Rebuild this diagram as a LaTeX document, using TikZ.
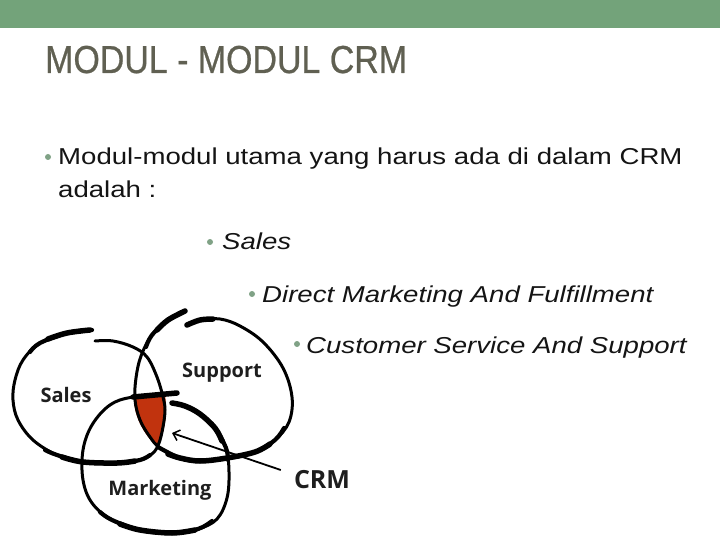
\documentclass[tikz,border=0pt]{standalone}
\usepackage{fontspec}
\usepackage{graphicx}
\setmainfont{Liberation Sans}
\newfontfamily\lblfont{Open Sans}
\newfontfamily\titlefont{Liberation Sans}[FakeBold=0.7]
\usetikzlibrary{arrows.meta}
\definecolor{barcol}{RGB}{115,163,122}
\definecolor{titlecol}{RGB}{96,96,82}
\definecolor{txtcol}{RGB}{20,20,20}
\definecolor{dotcol}{RGB}{128,162,134}
\definecolor{crmred}{RGB}{193,51,14}
\definecolor{lblcol}{RGB}{30,30,30}
\tikzset{
  bodytext/.style={anchor=base west, inner sep=0pt, text=txtcol, font=\fontsize{23}{27}\selectfont},
  bulletdot/.style={circle, fill=dotcol, inner sep=0pt, minimum size=6pt},
  loopline/.style={line width=3pt, line cap=round, line join=round},
  midpart/.style={line width=4.2pt, line cap=round},
  thickpart/.style={line width=5.5pt, line cap=round},
  vlabel/.style={inner sep=0pt, text=lblcol, font=\lblfont\bfseries\fontsize{20}{22}\selectfont},
  arrowline/.style={line width=1.8pt, -{Straight Barb[length=6pt,width=11pt,line width=1.5pt]}}
}
\begin{document}
\begin{tikzpicture}[x=1pt,y=-1pt]
\useasboundingbox (0,0) rectangle (720,540);
\fill[barcol] (0,0) rectangle (720,28);
% title
\node[anchor=base west, inner sep=0pt, text=titlecol, font=\titlefont\fontsize{39}{44}\selectfont] (title) at (45,73) {\scalebox{0.87}[1]{MODUL - MODUL CRM}};
% bullets and text
\node[bulletdot] (d1) at (48,157) {};
\node[bodytext] (t1) at (58,165) {\scalebox{1.2}[1]{Modul-modul utama yang harus ada di dalam CRM}};
\node[bodytext] (t2) at (58,197) {\scalebox{1.2}[1]{adalah :}};
\node[bulletdot] (d2) at (210,242) {};
\node[bodytext] (t3) at (222,249) {\scalebox{1.2}[1]{\itshape Sales}};
\node[bulletdot] (d3) at (252,294) {};
\node[bodytext] (t4) at (262,302) {\scalebox{1.2}[1]{\itshape Direct Marketing And Fulfillment}};
\node[bulletdot] (d4) at (297,344) {};
\node[bodytext] (t5) at (306,353) {\scalebox{1.2}[1]{\itshape Customer Service And Support}};
% red triple intersection
\fill[crmred] (134,398) -- (165,395) .. controls (168,415) and (164,435) .. (157,447) .. controls (147,437) and (134,420) .. cycle;
% Sales loop
\draw[loopline] plot[smooth, tension=0.6] coordinates {(92,330) (67,333) (40,343) (23,360) (15,380) (13,400) (18,420) (33,440) (57,455) (83,462) (117,463) (140,460) (153,453) (159,443) (163,427) (165,410) (163,397) (157,377) (147,357) (133,347) (113,341) (95,341)};
\draw[midpart] plot[smooth, tension=0.6] coordinates {(92,330) (67,333) (40,343) (30,352)};
\draw[thickpart] plot[smooth, tension=0.6] coordinates {(90,330) (67,333) (48,339)};
\draw[midpart] plot[smooth, tension=0.6] coordinates {(45,450) (57,455) (83,462) (117,463) (140,460) (150,455)};
\draw[thickpart] plot[smooth, tension=0.6] coordinates {(62,457) (83,462) (117,463) (135,461)};
% Support loop
\draw[loopline] plot[smooth, tension=0.6] coordinates {(187,325) (200,320) (220,319) (240,326) (263,342) (283,368) (292,397) (289,422) (275,440) (255,452) (227,458) (200,461) (180,458) (160,448) (150,437) (140,420) (135,400) (136,378) (141,356) (152,335) (168,320) (185,311)};
\draw[midpart] plot[smooth, tension=0.6] coordinates {(185,311) (168,320) (152,335) (146,347)};
\draw[thickpart] plot[smooth, tension=0.6] coordinates {(185,311) (168,320) (157,330)};
\draw[midpart] plot[smooth, tension=0.6] coordinates {(158,447) (180,458) (200,461) (227,458) (255,452) (275,440) (284,428)};
\draw[thickpart] plot[smooth, tension=0.6] coordinates {(168,454) (180,458) (200,461) (227,458) (255,452) (270,444)};
\draw[thickpart] plot[smooth, tension=0.6] coordinates {(187,325) (200,320) (213,319)};
% Marketing loop
\draw[loopline] plot[smooth, tension=0.6] coordinates {(177,393) (133,397) (110,405) (92,425) (83,450) (83,480) (92,503) (112,520) (140,530) (172,533) (198,529) (217,519) (227,498) (229,472) (226,448) (215,428) (200,414) (185,406) (172,403)};
\draw[thickpart] (177,393) -- (133,397);
\draw[midpart] plot[smooth, tension=0.6] coordinates {(172,403) (185,406) (200,414) (215,428) (226,448) (228,460)};
\draw[thickpart] plot[smooth, tension=0.6] coordinates {(172,403) (185,406) (200,414) (215,428) (222,441)};
\draw[midpart] plot[smooth, tension=0.6] coordinates {(100,512) (112,520) (140,530) (172,533) (198,529) (212,521)};
\draw[thickpart] plot[smooth, tension=0.6] coordinates {(120,524) (140,530) (172,533) (195,530)};
% labels
\node[vlabel] (lsales) at (66,395) {Sales};
\node[vlabel] (lsupport) at (222,373) {Support};
\node[vlabel] (lmarketing) at (160,490) {Marketing};
\node[vlabel, font=\lblfont\bfseries\fontsize{25}{28}\selectfont] (crm) at (322,480) {CRM};
\coordinate (tipc) at (172,433);
\draw[arrowline] ([shift={(-13,-10)}]crm.west) -- (tipc);
\end{tikzpicture}
\end{document}
